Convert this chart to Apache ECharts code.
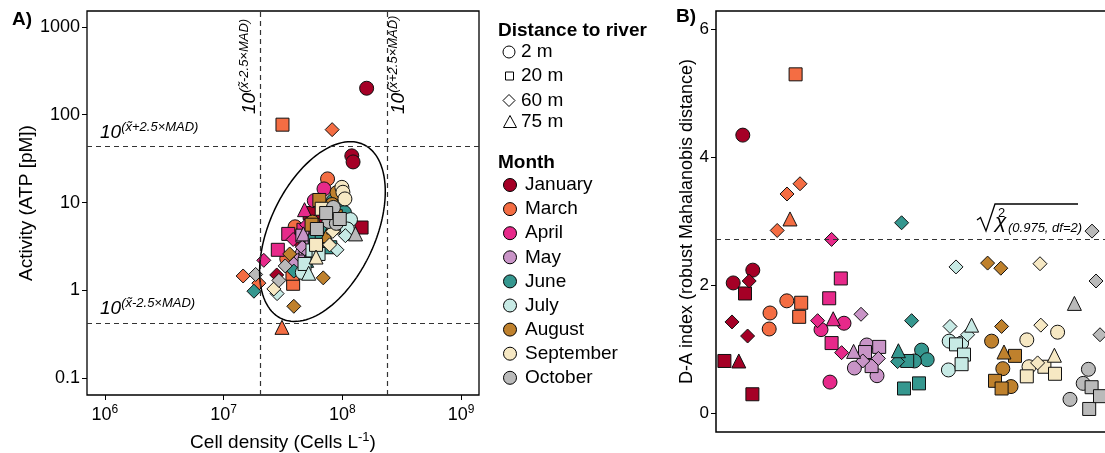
<!DOCTYPE html>
<html>
<head>
<meta charset="utf-8">
<script src="https://cdn.jsdelivr.net/npm/echarts@6/dist/echarts.min.js"></script>
<style>
  html, body { margin: 0; padding: 0; background: #ffffff; }
  #chart { width: 1105px; height: 453px; }
</style>
</head>
<body>
<div id="chart"></div>
<script>
const FONT = 'Liberation Sans, Arial, Helvetica, sans-serif';

// ---- categories ----
const months = ['January', 'March', 'April', 'May', 'June', 'July', 'August', 'September', 'October'];
const monthColors = ['#A50026', '#F46D43', '#E7298A', '#C994C7', '#35978F', '#C7EAE5', '#BF812D', '#F6E8C3', '#BABABA'];
const distances = ['2 m', '20 m', '60 m', '75 m'];
const distanceSymbols = ['circle', 'rect', 'diamond', 'triangle'];
const distanceSizes = [14, 13, 14, 14];

// ---- tick labels ----
const cellTicks = [1e6, 1e7, 1e8, 1e9];
const atpTicks = [0.1, 1, 10, 100, 1000];
const daTicks = [0, 2, 4, 6];

// ---- thresholds ----
const cellBounds = [2.02e7, 2.39e8];   // 10^(median -/+ 2.5 MAD), cells per litre
const atpBounds = [0.418, 43.3];       // 10^(median -/+ 2.5 MAD), ATP pM
const chiCutoff = 2.716;               // sqrt(chi2(0.975, df = 2))

// ---- 97.5 % robust ellipse (log10 space) ----
const ellipseCentre = [7.832, 0.67];
const ellipseRadius = [0.529, 1.023];
const ellipsePhaseDeg = 63.6;

// ---- samples (per month: 3 x 2 m, 3 x 20 m, 3 x 60 m, 1 x 75 m) ----
const sampleMonth = [
  0,0,0,0,0,0,0,0,0,0,
  1,1,1,1,1,1,1,1,1,1,
  2,2,2,2,2,2,2,2,2,2,
  3,3,3,3,3,3,3,3,3,3,
  4,4,4,4,4,4,4,4,4,4,
  5,5,5,5,5,5,5,5,5,5,
  6,6,6,6,6,6,6,6,6,6,
  7,7,7,7,7,7,7,7,7,7,
  8,8,8,8,8,8,8,8,8,8
];
const sampleDistance = [
  0,0,0,1,1,1,2,2,2,3,
  0,0,0,1,1,1,2,2,2,3,
  0,0,0,1,1,1,2,2,2,3,
  0,0,0,1,1,1,2,2,2,3,
  0,0,0,1,1,1,2,2,2,3,
  0,0,0,1,1,1,2,2,2,3,
  0,0,0,1,1,1,2,2,2,3,
  0,0,0,1,1,1,2,2,2,3,
  0,0,0,1,1,1,2,2,2,3
];
const cellDensity = [
  1.6e8, 1.2e8, 1.23e8, 1.45e8, 6.1e7, 5.3e7, 2.8e7, 3.7e7, 4.5e7, 6.0e7,
  7.5e7, 4.0e7, 3.4e7, 3.13e7, 3.85e7, 3.8e7, 8.2e7, 1.46e7, 1.98e7, 3.1e7,
  7.0e7, 5.8e7, 4.6e7, 3.5e7, 4.7e7, 2.86e7, 2.18e7, 3.85e7, 5.0e7, 4.8e7,
  4.6e7, 4.4e7, 4.9e7, 4.6e7, 4.9e7, 5.5e7, 4.6e7, 3.9e7, 5.2e7, 4.7e7,
  8.4e7, 9.6e7, 1.04e8, 5.85e7, 7.9e7, 6.7e7, 1.8e7, 3.9e7, 5.3e7, 5.0e7,
  1.17e8, 1.1e8, 4.6e7, 5.6e7, 6.3e7, 4.8e7, 2.82e7, 9.0e7, 1.06e8, 5.2e7,
  9.0e7, 8.2e7, 5.6e7, 6.4e7, 8.8e7, 5.5e7, 3.9e7, 6.9e7, 3.6e7, 7.35e7,
  9.9e7, 1.01e8, 1.05e8, 6.7e7, 8.4e7, 6.0e7, 2.65e7, 7.8e7, 8.3e7, 6.0e7,
  7.7e7, 8.9e7, 8.4e7, 6.1e7, 7.3e7, 9.5e7, 1.86e7, 2.92e7, 3.3e7, 1.29e8
];
const atpActivity = [
  200, 34, 29, 5.2, 6.8, 7.6, 1.5, 2.4, 3.3, 4.0,
  18.6, 5.3, 2.3, 77, 1.19, 1.55, 67.6, 1.46, 1.21, 0.38,
  14.3, 10.5, 4.5, 4.4, 4.9, 2.9, 2.2, 3.8, 5.6, 8.3,
  2.65, 2.2, 2.4, 4.2, 3.0, 3.5, 3.1, 2.0, 2.7, 4.4,
  10.5, 9.7, 7.7, 3.7, 3.1, 4.6, 0.98, 1.66, 2.3, 2.2,
  6.4, 5.0, 1.6, 2.85, 2.6, 2.0, 0.92, 2.9, 4.2, 1.57,
  13.0, 9.5, 6.0, 10.7, 7.0, 5.6, 0.66, 1.39, 2.6, 4.2,
  14.9, 13.1, 11.0, 8.5, 5.2, 3.3, 1.04, 3.3, 4.7, 2.4,
  6.1, 5.8, 8.8, 5.0, 7.6, 6.5, 1.52, 1.30, 1.9, 4.4
];
const sampleOrder = [
  6.7, 9.2, 4.3, 7.25, 9.1, 2.1, 8.3, 4.0, 7.9, 5.7,
  17.7, 13.5, 13.3, 19.9, 21.3, 20.8, 21.0, 17.75, 15.3, 18.5,
  32.0, 26.25, 28.5, 31.2, 28.3, 28.9, 28.9, 25.4, 31.4, 29.3,
  37.7, 34.6, 40.25, 40.8, 37.25, 38.9, 36.25, 40.6, 36.7, 34.4,
  51.4, 52.8, 49.6, 47.8, 47.0, 50.75, 46.4, 48.9, 45.4, 45.6,
  58.3, 61.4, 58.1, 60.0, 62.0, 61.4, 60.0, 58.5, 62.9, 63.9,
  68.9, 71.7, 73.75, 74.75, 69.75, 71.4, 67.9, 71.2, 71.4, 72.0,
  85.4, 77.7, 78.25, 82.1, 77.7, 84.75, 81.0, 81.2, 80.4, 84.6,
  93.1, 91.8, 88.5, 93.9, 93.3, 96.0, 94.0, 95.0, 96.0, 89.6
];
const daIndex = [
  4.35, 2.24, 2.04, 1.875, 0.30, 0.82, 2.07, 1.43, 1.21, 0.82,
  1.76, 1.57, 1.32, 5.30, 1.73, 1.51, 3.59, 3.43, 2.86, 3.04,
  1.41, 1.31, 0.49, 2.11, 1.80, 1.10, 2.72, 1.45, 0.95, 1.48,
  1.07, 0.71, 0.59, 1.04, 0.96, 0.74, 1.55, 0.86, 0.82, 0.97,
  0.99, 0.84, 0.82, 0.82, 0.39, 0.47, 2.98, 1.45, 0.81, 0.98,
  1.13, 1.10, 0.68, 1.08, 0.92, 0.77, 2.29, 1.36, 1.23, 1.38,
  1.13, 0.70, 0.42, 0.90, 0.51, 0.39, 2.35, 2.27, 1.36, 0.96,
  1.27, 1.15, 0.73, 0.73, 0.58, 0.62, 2.34, 1.38, 0.79, 0.91,
  0.69, 0.47, 0.22, 0.41, 0.07, 0.27, 2.85, 2.07, 1.23, 1.72
];

// ellipse outline, traced in log10 space and returned as raw values for the log axes
function ellipseOutline(steps) {
  const pts = [];
  const phase = ellipsePhaseDeg * Math.PI / 180;
  for (let k = 0; k <= steps; k++) {
    const t = 2 * Math.PI * k / steps;
    const u = ellipseCentre[0] + ellipseRadius[0] * Math.cos(t);
    const v = ellipseCentre[1] + ellipseRadius[1] * Math.cos(t - phase);
    pts.push([Math.pow(10, u), Math.pow(10, v)]);
  }
  return pts;
}

const dashStyle = { type: [5, 4], color: '#333333', width: 1.2 };

const series = [];
months.forEach((m, mi) => {
  const scatterA = [];
  const scatterB = [];
  sampleMonth.forEach((sm, i) => {
    if (sm !== mi) return;
    const d = sampleDistance[i];
    const shape = { symbol: distanceSymbols[d], symbolSize: distanceSizes[d] };
    scatterA.push(Object.assign({ value: [cellDensity[i], atpActivity[i]] }, shape));
    scatterB.push(Object.assign({ value: [sampleOrder[i], daIndex[i]] }, shape));
  });
  const style = { color: monthColors[mi], borderColor: '#111111', borderWidth: 1, opacity: 1 };
  series.push({ type: 'scatter', name: m, xAxisIndex: 0, yAxisIndex: 0, data: scatterA,
                itemStyle: style, silent: true, z: 3 });
  series.push({ type: 'scatter', name: m, xAxisIndex: 1, yAxisIndex: 1, data: scatterB,
                itemStyle: style, silent: true, z: 3 });
});

series.push({
  type: 'line', xAxisIndex: 0, yAxisIndex: 0, data: ellipseOutline(240),
  showSymbol: false, smooth: false, silent: true, z: 4,
  lineStyle: { color: '#000000', width: 1.5 },
  markLine: {
    silent: true, symbol: 'none', label: { show: false }, lineStyle: dashStyle,
    data: [
      { xAxis: cellBounds[0] }, { xAxis: cellBounds[1] },
      { yAxis: atpBounds[0] }, { yAxis: atpBounds[1] }
    ]
  }
});
series.push({
  type: 'line', xAxisIndex: 1, yAxisIndex: 1, data: [], silent: true,
  markLine: {
    silent: true, symbol: 'none', label: { show: false }, lineStyle: dashStyle,
    data: [{ yAxis: chiCutoff }]
  }
});

const tickStyle = { show: true, length: 5, inside: false, lineStyle: { color: '#000000', width: 1 } };
const supRich = { fontFamily: FONT, fontSize: 12, color: '#000', verticalAlign: 'top', lineHeight: 10 };

// "10^(median +/- 2.5 x MAD)" bound label
function boundLabel(x, y, rotation, sign) {
  return {
    type: 'text', x: x, y: y, rotation: rotation, silent: true, z: 10,
    style: {
      text: '{a|10}{s|(x\u0303' + sign + '2.5\u00D7MAD)}',
      align: 'left', verticalAlign: 'bottom',
      rich: {
        a: { fontFamily: FONT, fontSize: 19, fontStyle: 'italic', fill: '#000', lineHeight: 24 },
        s: { fontFamily: FONT, fontSize: 13, fontStyle: 'italic', fill: '#000', verticalAlign: 'top', lineHeight: 14 }
      }
    }
  };
}

const graphics = [];
// panel tags
graphics.push({ type: 'text', x: 12, y: 20, silent: true,
  style: { text: 'A)', fontFamily: FONT, fontSize: 19, fontWeight: 'bold', fill: '#000', verticalAlign: 'middle' } });
graphics.push({ type: 'text', x: 676, y: 17, silent: true,
  style: { text: 'B)', fontFamily: FONT, fontSize: 19, fontWeight: 'bold', fill: '#000', verticalAlign: 'middle' } });

// MAD bound labels
graphics.push(boundLabel(100, 145, 0, '+'));
graphics.push(boundLabel(100, 321, 0, '-'));
graphics.push(boundLabel(262, 114, Math.PI / 2, '-'));
graphics.push(boundLabel(411, 114, Math.PI / 2, '+'));

// chi-square cutoff label with radical sign
graphics.push({ type: 'polyline', silent: true, z: 10,
  shape: { points: [[977, 220], [980.5, 217.5], [986, 231], [995, 204], [1078, 204]] },
  style: { stroke: '#000', lineWidth: 1.3, fill: null } });
graphics.push({ type: 'text', x: 995, y: 222, silent: true, z: 10,
  style: { text: '\u03C7', fontFamily: FONT, fontSize: 21, fontStyle: 'italic', fill: '#000', verticalAlign: 'middle' } });
graphics.push({ type: 'text', x: 998, y: 213, silent: true, z: 10,
  style: { text: '2', fontFamily: FONT, fontSize: 13, fill: '#000', verticalAlign: 'middle' } });
graphics.push({ type: 'text', x: 1008, y: 228, silent: true, z: 10,
  style: { text: '(0.975, df=2)', fontFamily: FONT, fontSize: 13, fontStyle: 'italic', fill: '#000', verticalAlign: 'middle' } });

// legend: distance to river
const legendText = { fontFamily: FONT, fontSize: 19, fill: '#000', verticalAlign: 'middle' };
graphics.push({ type: 'text', x: 498, y: 31, silent: true,
  style: Object.assign({}, legendText, { text: 'Distance to river', fontWeight: 'bold' }) });
const keyStroke = { fill: '#ffffff', stroke: '#000000', lineWidth: 1 };
const distKeyY = [52, 76, 100.5, 122];
graphics.push({ type: 'circle', silent: true, shape: { cx: 509, cy: distKeyY[0], r: 6 }, style: keyStroke });
graphics.push({ type: 'rect', silent: true, shape: { x: 505.5, y: distKeyY[1] - 4, width: 8, height: 8 }, style: keyStroke });
graphics.push({ type: 'polygon', silent: true,
  shape: { points: [[509, distKeyY[2] - 6], [515, distKeyY[2]], [509, distKeyY[2] + 6], [503, distKeyY[2]]] }, style: keyStroke });
graphics.push({ type: 'polygon', silent: true,
  shape: { points: [[510, distKeyY[3] - 6.5], [516.5, distKeyY[3] + 5.5], [503.5, distKeyY[3] + 5.5]] }, style: keyStroke });
distances.forEach((d, i) => {
  graphics.push({ type: 'text', x: 521, y: distKeyY[i], silent: true,
    style: Object.assign({}, legendText, { text: d }) });
});

// legend: month
graphics.push({ type: 'text', x: 498, y: 163, silent: true,
  style: Object.assign({}, legendText, { text: 'Month', fontWeight: 'bold' }) });
months.forEach((m, i) => {
  const y = 185 + i * 24.1;
  graphics.push({ type: 'circle', silent: true, shape: { cx: 510, cy: y, r: 6.5 },
    style: { fill: monthColors[i], stroke: '#000', lineWidth: 1 } });
  graphics.push({ type: 'text', x: 525, y: y, silent: true,
    style: Object.assign({}, legendText, { text: m }) });
});

const option = {
  animation: false,
  backgroundColor: '#ffffff',
  textStyle: { fontFamily: FONT },
  grid: [
    { left: 87, top: 11, width: 392, height: 384, show: true, borderColor: '#000', borderWidth: 1.3,
      backgroundColor: 'transparent', containLabel: false, outerBoundsMode: 'none' },
    { left: 716, top: 11, width: 410, height: 421, show: true, borderColor: '#000', borderWidth: 1.5,
      backgroundColor: 'transparent', containLabel: false, outerBoundsMode: 'none' }
  ],
  xAxis: [
    {
      type: 'log', logBase: 10, gridIndex: 0,
      min: Math.pow(10, 5.85), max: Math.pow(10, 9.15),
      axisLine: { show: false }, splitLine: { show: false }, minorTick: { show: false },
      axisTick: Object.assign({ customValues: cellTicks }, tickStyle),
      axisLabel: {
        customValues: cellTicks, margin: 9, color: '#000', fontFamily: FONT, fontSize: 18, lineHeight: 22,
        formatter: v => '10{sup|' + Math.round(Math.log10(v)) + '}',
        rich: { sup: supRich }
      },
      name: 'Cell density (Cells L{sup|-1})', nameLocation: 'middle', nameGap: 33,
      nameTextStyle: { color: '#000', fontFamily: FONT, fontSize: 19, lineHeight: 24,
        rich: { sup: { fontFamily: FONT, fontSize: 13, color: '#000', verticalAlign: 'top', lineHeight: 12 } } }
    },
    {
      type: 'value', gridIndex: 1, min: 0, max: 102.5, show: false,
      splitLine: { show: false }
    }
  ],
  yAxis: [
    {
      type: 'log', logBase: 10, gridIndex: 0,
      min: Math.pow(10, -1.19), max: Math.pow(10, 3.18),
      axisLine: { show: false }, splitLine: { show: false }, minorTick: { show: false },
      axisTick: Object.assign({ customValues: atpTicks }, tickStyle),
      axisLabel: {
        customValues: atpTicks, margin: 7, color: '#000', fontFamily: FONT, fontSize: 18,
        formatter: v => String(+Number(v).toPrecision(3))
      },
      name: 'Activity (ATP [pM])', nameLocation: 'middle', nameGap: 47, nameRotate: 90,
      nameTextStyle: { color: '#000', fontFamily: FONT, fontSize: 19 }
    },
    {
      type: 'value', gridIndex: 1, min: -0.29, max: 6.29,
      axisLine: { show: false }, splitLine: { show: false },
      axisTick: Object.assign({ customValues: daTicks }, tickStyle),
      axisLabel: {
        customValues: daTicks, margin: 7, color: '#000', fontFamily: FONT, fontSize: 17,
        formatter: v => String(v)
      },
      name: 'D-A index (robust Mahalanobis distance)', nameLocation: 'middle', nameGap: 20, nameRotate: 90,
      nameTextStyle: { color: '#000', fontFamily: FONT, fontSize: 18 }
    }
  ],
  series: series,
  graphic: { elements: graphics }
};

const chart = echarts.init(document.getElementById('chart'), null, { renderer: 'canvas' });
chart.setOption(option);
</script>
</body>
</html>
